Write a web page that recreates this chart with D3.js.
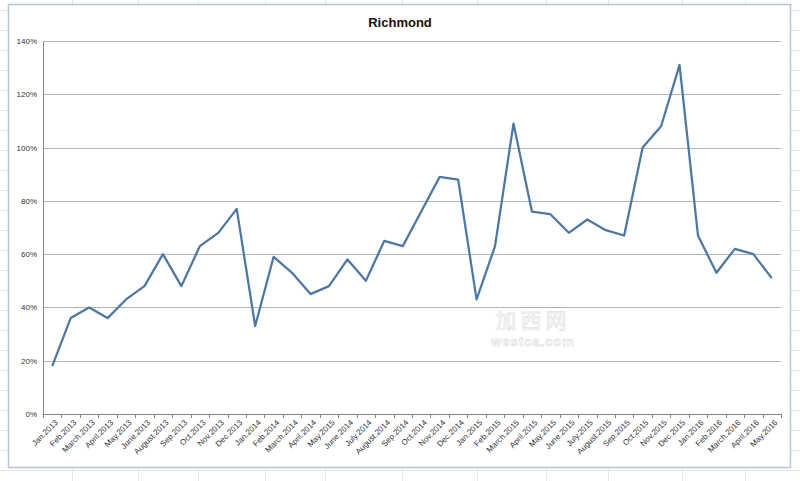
<!DOCTYPE html>
<html>
<head>
<meta charset="utf-8">
<script src="https://cdn.jsdelivr.net/npm/d3@7"></script>
<style>
  body { margin: 0; background: #fff; }
  svg { display: block; font-family: "Liberation Sans", Arial, sans-serif; }
</style>
</head>
<body>
<div id="chart"></div>
<script>
// data (labels kept as printed, "May.2015" appears twice)
const categories = [
  "Jan.2013", "Feb.2013", "March.2013", "April.2013", "May.2013", "June.2013",
  "August.2013", "Sep.2013", "Oct.2013", "Nov.2013", "Dec.2013",
  "Jan.2014", "Feb.2014", "March.2014", "April.2014", "May.2015", "June.2014",
  "July.2014", "August.2014", "Sep.2014", "Oct.2014", "Nov.2014", "Dec.2014",
  "Jan.2015", "Feb.2015", "March.2015", "April.2015", "May.2015", "June.2015",
  "July.2015", "August.2015", "Sep.2015", "Oct.2015", "Nov.2015", "Dec.2015",
  "Jan.2016", "Feb.2016", "March.2016", "April.2016", "May.2016"
]
const values = [
  0.18, 0.36, 0.40, 0.36, 0.43, 0.48, 0.60, 0.48, 0.63, 0.68, 0.77,
  0.33, 0.59, 0.53, 0.45, 0.48, 0.58, 0.50, 0.65, 0.63, 0.76, 0.89, 0.88,
  0.43, 0.63, 1.09, 0.76, 0.75, 0.68, 0.73, 0.69, 0.67, 1.00, 1.08, 1.31,
  0.67, 0.53, 0.62, 0.60, 0.51
]
const yTicks = [0, 0.2, 0.4, 0.6, 0.8, 1.0, 1.2, 1.4]
const title = "Richmond"

const W = 800, H = 481
const margin = { top: 41, right: 19, bottom: 67, left: 43 }
const width = W - margin.left - margin.right
const height = H - margin.top - margin.bottom

const svg = d3.select("#chart").append("svg")
  .attr("width", W)
  .attr("height", H)

/* SPREADSHEET BACKDROP */
const sheetCols = [72, 138, 198, 265, 325, 402, 477, 546, 608, 682, 745]
const sheetRows = d3.range(10, H, 20)
svg.append("g")
  .attr("stroke", "#e1e6ec")
  .selectAll("line")
  .data(sheetCols)
  .join("line")
    .attr("x1", d => d + 0.5).attr("x2", d => d + 0.5)
    .attr("y1", 0).attr("y2", H)
svg.append("g")
  .attr("stroke", "#e1e6ec")
  .selectAll("line")
  .data(sheetRows)
  .join("line")
    .attr("x1", 0).attr("x2", W)
    .attr("y1", d => d + 0.5).attr("y2", d => d + 0.5)

// chart box
svg.append("rect")
  .attr("x", 8.5).attr("y", 4.5)
  .attr("width", 782).attr("height", 463)
  .attr("fill", "#fff")
  .attr("stroke", "#b7c6d6")
  .attr("stroke-width", 1.5)

/* TITLE */
svg.append("text")
  .attr("x", 400)
  .attr("y", 27)
  .attr("text-anchor", "middle")
  .style("font-size", "13px")
  .style("font-weight", "bold")
  .style("fill", "#111")
  .text(title)

const g = svg.append("g")
  .attr("transform", `translate(${margin.left}, ${margin.top})`)

// index based band scale, since two labels repeat
const x = d3.scaleBand()
  .domain(d3.range(categories.length))
  .range([0, width])
const y = d3.scaleLinear()
  .domain([0, 1.4])
  .range([height, 0])

/* GRID */
g.append("g")
  .attr("stroke", "#b3b3b3")
  .selectAll("line")
  .data(yTicks.filter(d => d > 0))
  .join("line")
    .attr("x1", 0).attr("x2", width)
    .attr("y1", d => Math.round(y(d)) + 0.5)
    .attr("y2", d => Math.round(y(d)) + 0.5)

/* WATERMARK */
const wm = g.append("g")
  .attr("fill", "#fff")
  .attr("stroke", "#e4e4e4")
  .attr("stroke-width", 0.8)
  .attr("text-anchor", "middle")
wm.append("text")
  .attr("x", 490).attr("y", 287)
  .style("font-family", "'Noto Sans CJK SC', sans-serif")
  .style("font-size", "21px")
  .style("letter-spacing", "4px")
  .text("加西网")
wm.append("text")
  .attr("x", 490).attr("y", 305)
  .style("font-size", "13px")
  .style("font-weight", "bold")
  .style("letter-spacing", "1px")
  .text("westca.com")

/* AXES */
const yAxis = g.append("g")
  .call(d3.axisLeft(y)
    .tickValues(yTicks)
    .tickSize(0)
    .tickPadding(6)
    .tickFormat(d3.format(".0%")))
yAxis.select(".domain").attr("stroke", "#868686")
yAxis.selectAll(".tick text")
  .style("font-size", "8px")
  .style("fill", "#333")

const xAxis = g.append("g")
  .attr("transform", `translate(0, ${height})`)
  .call(d3.axisBottom(x)
    .tickSize(0)
    .tickPadding(0)
    .tickFormat(i => categories[i]))
xAxis.select(".domain").attr("stroke", "#868686")
xAxis.selectAll(".tick text")
  .attr("text-anchor", "end")
  .attr("dy", null)
  .attr("y", null)
  .attr("transform", `translate(${x.bandwidth() / 2 - 3}, 9) rotate(-45)`)
  .style("font-size", "8px")
  .style("fill", "#333")

// tick marks sit between categories
xAxis.append("g")
  .attr("stroke", "#868686")
  .selectAll("line")
  .data(x.domain().map(i => x(i)).concat([width]))
  .join("line")
    .attr("x1", d => Math.round(d) + 0.5).attr("x2", d => Math.round(d) + 0.5)
    .attr("y1", 0).attr("y2", 4)

/* LINE */
const line = d3.line()
  .x((d, i) => x(i) + x.bandwidth() / 2)
  .y(d => y(d))

g.append("path")
  .datum(values)
  .attr("fill", "none")
  .attr("stroke", "#4a78ad")
  .attr("stroke-width", 2.25)
  .attr("stroke-linejoin", "round")
  .attr("d", line)
</script>
</body>
</html>
